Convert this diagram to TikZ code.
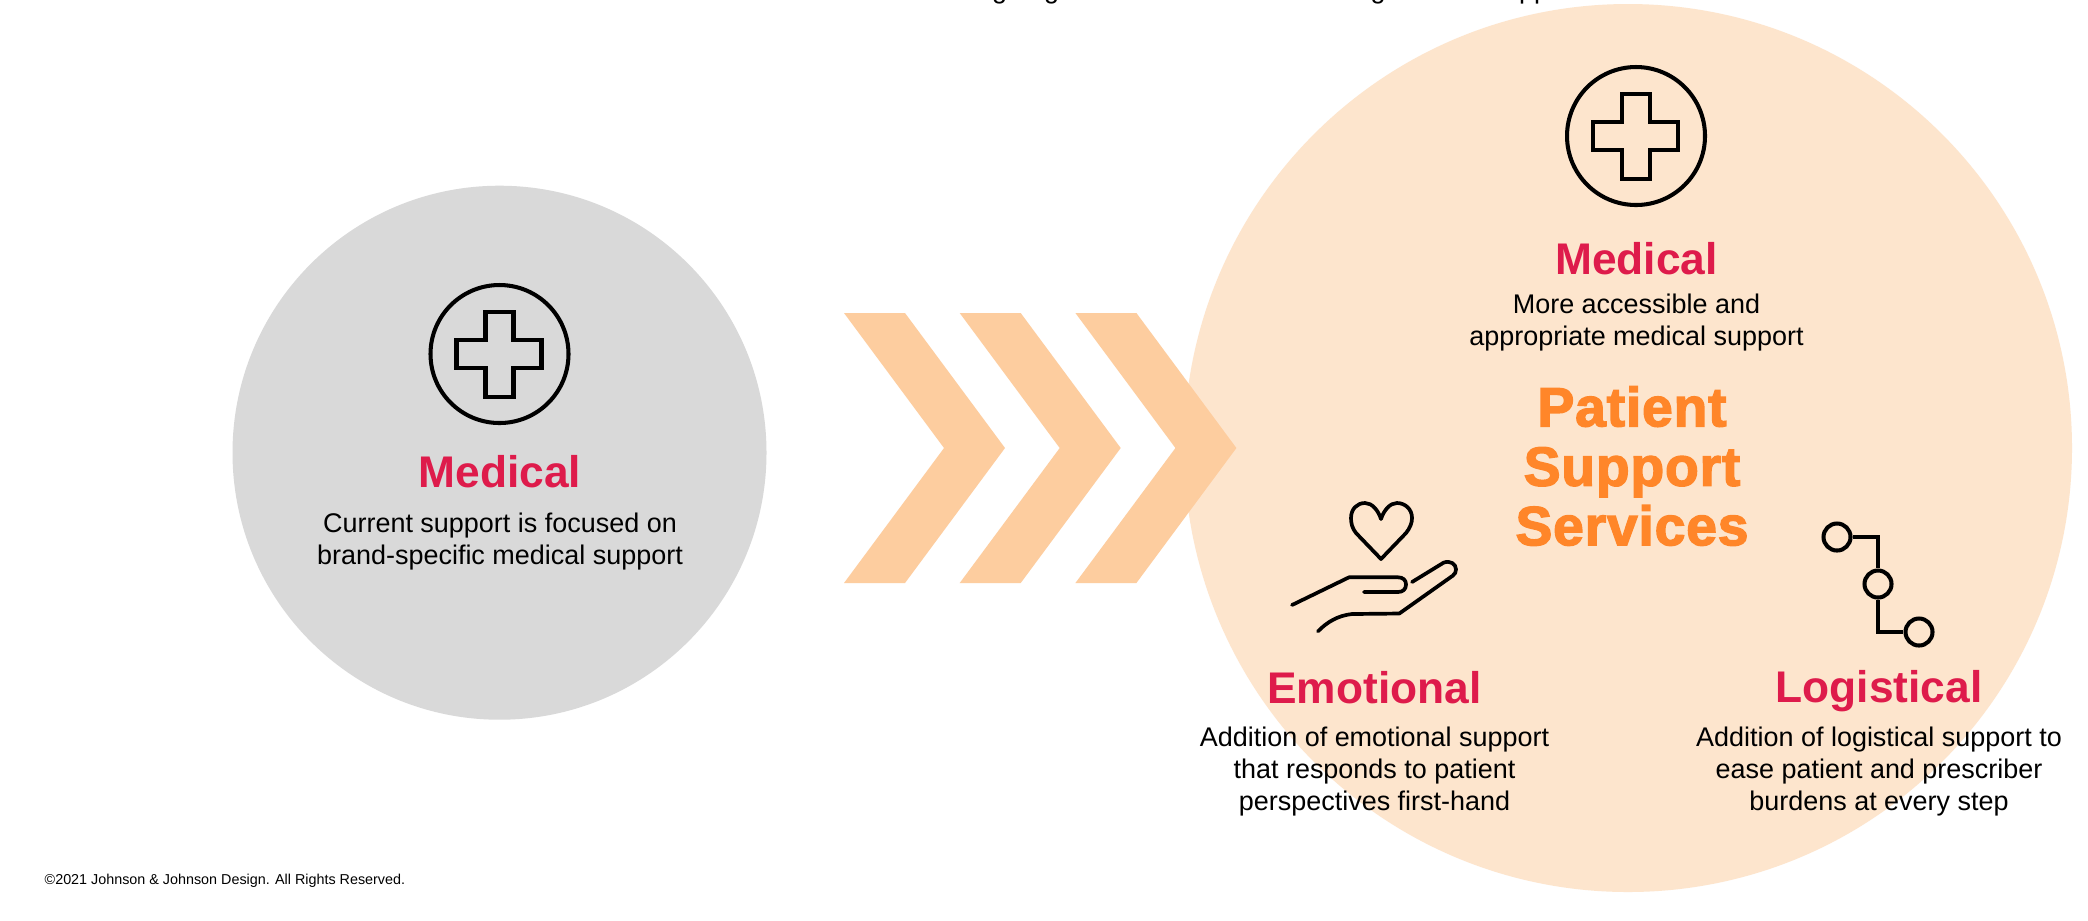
\documentclass[tikz,border=0pt]{standalone}
\usepackage{fontspec}
\setmainfont{Liberation Sans}
\newfontfamily\pssfont[FakeBold=2.5,LetterSpace=1.5]{Liberation Sans Bold}
\definecolor{greyc}{HTML}{D9D9D9}
\definecolor{peach}{HTML}{FDE5CD}
\definecolor{chev}{HTML}{FDCD9F}
\definecolor{crim}{HTML}{DE1B4B}
\definecolor{oran}{HTML}{FF8629}
\tikzset{
  head/.style={text=crim,font=\bfseries\fontsize{12.6}{15}\selectfont,inner sep=0pt},
  body/.style={text=black,align=center,font=\fontsize{7.67}{9.1}\selectfont,inner sep=0pt},
  pss/.style={text=oran,align=center,font=\pssfont\fontsize{15.7}{16.9}\selectfont,inner sep=0pt},
  icon/.style={draw=black,line width=1.15pt,line join=miter},
  iconr/.style={draw=black,line width=1.05pt,line cap=round,line join=round},
  chevshape/.style={fill=chev},
  topt/.style={text=black,font=\fontsize{7.67}{9.1}\selectfont,inner sep=0pt,anchor=base},
  node1/.style={circle,draw=black,line width=1.15pt,minimum size=0.27cm,inner sep=0pt}
}
\begin{document}
\begin{tikzpicture}[x=0.01cm,y=-0.01cm]
\useasboundingbox (0,0) rectangle (2088,920);
\fill[white] (0,0) rectangle (2088,920);
\fill[greyc] (499.5,452.7) circle[radius=267];
\fill[peach] (1628,448) circle[radius=444];
\foreach \d in {0,115.7,231.4}{
  \fill[chevshape] (844+\d,313) -- (905+\d,313) -- (1005+\d,448) -- (905+\d,583) -- (844+\d,583) -- (944+\d,448) -- cycle;
}
% clipped line at the top edge
\node[topt] (t1) at (999.5,-2) {g};
\node[topt] (t2) at (1051.5,-2) {g};
\node[topt] (t3) at (1378,-2) {g};
\node[topt] (t4) at (1534,-2) {pp};
% medical icons
\foreach \dx/\dy in {0/0,-1136.5/218}{
  \begin{scope}[shift={(\dx,\dy)}]
    \draw[icon] (1636,136) circle[radius=69];
    \draw[icon] (1622,94) -- (1650,94) -- (1650,122) -- (1678,122) -- (1678,150) -- (1650,150) -- (1650,179) -- (1622,179) -- (1622,150) -- (1593,150) -- (1593,122) -- (1622,122) -- cycle;
  \end{scope}
}
% heart in hand
\draw[iconr] (1381,559) -- (1356,533) .. controls (1352,528) and (1351,523) .. (1351,518) .. controls (1351,509) and (1357,503) .. (1365,503) .. controls (1372,503) and (1378,510) .. (1381,519) .. controls (1384,510) and (1390,503) .. (1397,503) .. controls (1405,503) and (1412,509) .. (1412,518) .. controls (1412,523) and (1410,528) .. (1406,533) -- cycle;
\draw[iconr] (1292,605) -- (1349,577.3) -- (1398,577.3) .. controls (1403,577.3) and (1406,580) .. (1406,584.5) .. controls (1406,589) and (1403,592) .. (1398,592) -- (1364,592);
\draw[iconr] (1412,582) -- (1443.5,562.7) .. controls (1450,560) and (1456,564) .. (1456,569.3) .. controls (1456,572) and (1455,574) .. (1452.7,575.7) -- (1399.3,613.5) -- (1352,614) .. controls (1338,615.5) and (1327,622) .. (1318,631.3);
% logistical icon
\node[node1] (c1) at (1837,537) {};
\node[node1] (c2) at (1878,584) {};
\node[node1] (c3) at (1919,632) {};
\draw[icon] (c1.east) -| (c2.north);
\draw[icon] (c2.south) |- (c3.west);
% texts
\node[head] (m1) at (500,472) {Medical};
\node[body] (b1) at (500,542) {Current support is focused on\\brand-specific medical support};
\node[head] (m2) at (1636.5,259) {Medical};
\node[body] (b2) at (1636.5,322.5) {More accessible and\\appropriate medical support};
\node[pss] (p) at (1632,466) {Patient\\Support\\Services};
\node[head] (e) at (1374.5,688) {Emotional};
\node[body] (b3) at (1374.5,771.5) {Addition of emotional support\\that responds to patient\\perspectives first-hand};
\node[head] (l) at (1879,691) {Logistical};
\node[body] (b4) at (1879,771.5) {Addition of logistical support to\\ease patient and prescriber\\burdens at every step};
\node[inner sep=0pt,anchor=west,text=black,font=\fontsize{4.08}{5}\selectfont] (foot) at (44,880.5) {©2021 Johnson \& Johnson Design. All Rights Reserved.};
\end{tikzpicture}
\end{document}
